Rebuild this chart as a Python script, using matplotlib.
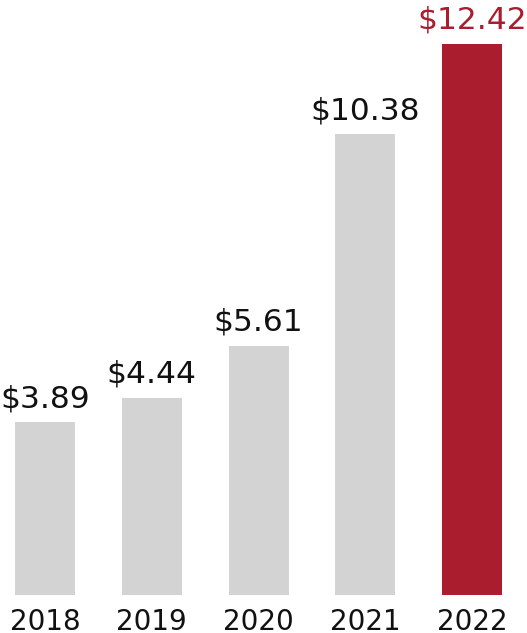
import matplotlib.pyplot as plt

years = ["2018", "2019", "2020", "2021", "2022"]
values = [3.89, 4.44, 5.61, 10.38, 12.42]
labels = ["$3.89", "$4.44", "$5.61", "$10.38", "$12.42"]

gray = "#d3d3d3"
red = "#a91d2f"
colors = [gray, gray, gray, gray, red]
text_colors = ["#111111", "#111111", "#111111", "#111111", red]

plt.rcParams['font.family'] = ['DejaVu Sans']

fig = plt.figure(figsize=(5.27, 6.33), dpi=100)
ax = fig.add_axes([0, 38 / 633, 1, 595 / 633])

x = list(range(len(years)))
ax.bar(x, values, width=0.562, color=colors)

for i in x:
    ax.annotate(labels[i], (x[i], values[i]), xytext=(0, 11), textcoords="offset points",
                ha="center", va="baseline", fontsize=22.5, color=text_colors[i])
    # year labels under the bars
    ax.annotate(years[i], (x[i], 0), xycoords=ax.get_xaxis_transform(), xytext=(0, -25),
                textcoords="offset points", ha="center", va="baseline",
                fontsize=20, color="#111111", annotation_clip=False)

ax.set_xlim(-0.4215, 4.515)
ax.set_ylim(0, 13.41)
ax.set_xticks([])
ax.set_yticks([])
for s in ax.spines.values():
    s.set_visible(False)

fig.savefig("out.png", dpi=100)
